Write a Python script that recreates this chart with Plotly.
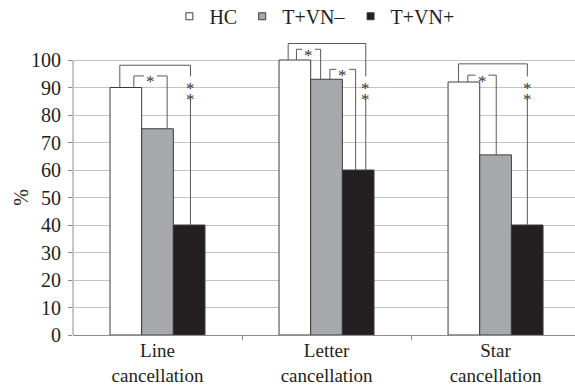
import plotly.graph_objects as go

# ---- data ----
categories = ["Line<br>cancellation", "Letter<br>cancellation", "Star<br>cancellation"]
series_names = ["HC", "T+VN–", "T+VN+"]
hc_values = [90, 100, 92]
vn_neg_values = [75, 93, 65.5]
vn_pos_values = [40, 60, 40]
series_colors = ["#ffffff", "#a7a9ac", "#231f20"]
y_ticks = list(range(0, 101, 10))

# significance brackets: category index, left/right offsets (category units),
# top height, heights where the legs end, label
bracket_cat = [0, 0, 1, 1, 1, 2, 2]
bracket_left = [-0.140, -0.223, -0.227, -0.178, 0.020, -0.219, -0.164]
bracket_right = [0.057, 0.195, 0.232, -0.035, 0.172, 0.188, 0.004]
bracket_top = [94.2, 98.1, 106.0, 103.9, 96.6, 98.6, 94.5]
bracket_left_end = [90, 90, 100, 100, 93, 92, 92]
bracket_right_end = [75, 40, 60, 93, 60, 40, 65.5]
bracket_label = ["*", "**", "**", "*", "*", "**", "*"]
double_star_heights = [91.7, 87.9]

FONT = "Liberation Serif, Times New Roman, serif"
LINE_COL = "#5a5a5a"
x = list(range(len(categories)))

fig = go.Figure()
for name, vals, col in zip(series_names, [hc_values, vn_neg_values, vn_pos_values], series_colors):
    fig.add_trace(go.Bar(
        x=x, y=vals, name=name, showlegend=False,
        marker=dict(color=col, line=dict(color="#3c3c3c", width=1)),
    ))
    # legend proxy with small square markers
    fig.add_trace(go.Scatter(
        x=[None], y=[None], mode="markers", name=name,
        marker=dict(symbol="square", size=7, color=col, line=dict(color="#3c3c3c", width=1)),
    ))

shapes = []
annotations = []
h_gap = 0.038   # half gap (category units) in horizontal line for "*"
v_gap_lo, v_gap_hi = 86.0, 94.0
star_font = dict(family=FONT, size=17, color="#333333")
for c, l, r, top, le, re_, lab in zip(bracket_cat, bracket_left, bracket_right,
                                     bracket_top, bracket_left_end, bracket_right_end, bracket_label):
    xl, xr = c + l, c + r
    line = dict(color=LINE_COL, width=1)
    shapes.append(dict(type="line", xref="x", yref="y", x0=xl, x1=xl, y0=le, y1=top, line=line, layer="above"))
    if lab == "*":
        xm = (xl + xr) / 2
        shapes.append(dict(type="line", xref="x", yref="y", x0=xl, x1=xm - h_gap, y0=top, y1=top, line=line, layer="above"))
        shapes.append(dict(type="line", xref="x", yref="y", x0=xm + h_gap, x1=xr, y0=top, y1=top, line=line, layer="above"))
        shapes.append(dict(type="line", xref="x", yref="y", x0=xr, x1=xr, y0=re_, y1=top, line=line, layer="above"))
        annotations.append(dict(x=xm, y=top, xref="x", yref="y", text="*", showarrow=False,
                                font=star_font, yshift=-6))
    else:
        shapes.append(dict(type="line", xref="x", yref="y", x0=xl, x1=xr, y0=top, y1=top, line=line, layer="above"))
        shapes.append(dict(type="line", xref="x", yref="y", x0=xr, x1=xr, y0=v_gap_hi, y1=top, line=line, layer="above"))
        shapes.append(dict(type="line", xref="x", yref="y", x0=xr, x1=xr, y0=re_, y1=v_gap_lo, line=line, layer="above"))
        for yy in double_star_heights:
            annotations.append(dict(x=xr, y=yy, xref="x", yref="y", text="*", showarrow=False,
                                    font=star_font, yshift=-6))

# left axis line only up to 100
shapes.append(dict(type="line", xref="paper", yref="y", x0=0, x1=0, y0=0, y1=100,
                   line=dict(color="#8c8c8c", width=1), layer="above"))

# y-axis title
annotations.append(dict(x=-0.105, y=50, xref="paper", yref="y", text="%", showarrow=False,
                        xanchor="center", yanchor="middle",
                        textangle=-90, font=dict(family=FONT, size=20, color="#231f20")))

fig.update_layout(
    width=575, height=387,
    margin=dict(l=73, r=0, t=38, b=52, autoexpand=False),
    paper_bgcolor="white", plot_bgcolor="white",
    barmode="group", bargap=0.438, bargroupgap=0,
    font=dict(family=FONT, size=20, color="#231f20"),
    showlegend=True,
    legend=dict(orientation="h", x=0.192, xanchor="left", yref="container", y=0.958, yanchor="middle",
                font=dict(family=FONT, size=20, color="#231f20"),
                bgcolor="rgba(0,0,0,0)", itemclick=False),
    shapes=shapes, annotations=annotations,
    xaxis=dict(range=[-0.5, 2.47], tickvals=x, ticktext=categories, ticks="", automargin=False,
               showline=True, linecolor="#8c8c8c", linewidth=1, showgrid=False, zeroline=False,
               ticklabelstandoff=-2,
               tickfont=dict(family=FONT, size=19, color="#231f20"),
               minor=dict(tickvals=[0.5, 1.5], ticks="outside", ticklen=4, tickcolor="#8c8c8c", showgrid=False)),
    yaxis=dict(range=[0, 108], tickvals=y_ticks, ticks="outside", ticklen=4, tickcolor="#8c8c8c",
               automargin=False,
               showline=False, showgrid=True, gridcolor="#c4c4c4", gridwidth=1, zeroline=False,
               ticklabelstandoff=3,
               tickfont=dict(family=FONT, size=20, color="#231f20")),
)

fig.write_html(
    "out.html",
    config={"displayModeBar": False},
    post_script="document.body.style.margin='0px';document.body.style.overflow='hidden';",
)
